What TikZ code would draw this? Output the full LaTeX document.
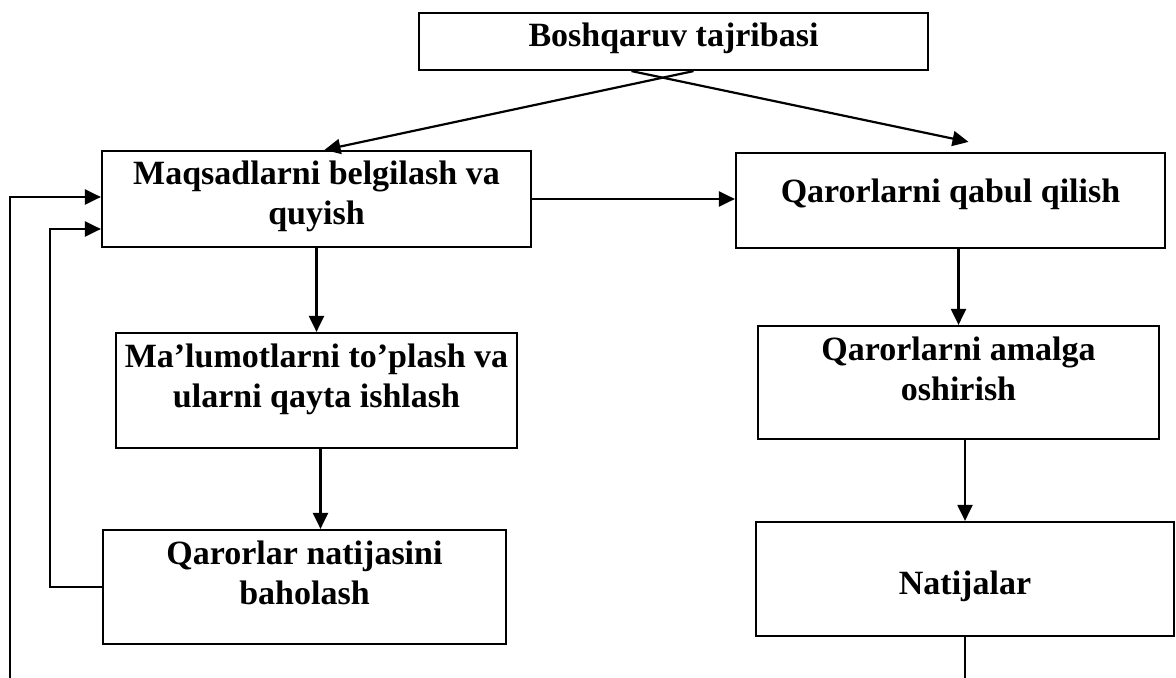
\documentclass[tikz,border=0pt]{standalone}
\usepackage{fontspec}
\setmainfont{Liberation Serif}
\usetikzlibrary{arrows.meta}

\begin{document}
\begin{tikzpicture}[x=0.5pt, y=-0.5pt, >={Triangle[length=8pt,width=7.5pt]},
    block/.style ={rectangle, draw, line width=1.1pt, inner sep=0pt},
    title/.style ={anchor=north, align=center, inner sep=0pt,
      font=\fontsize{17}{20}\selectfont\bfseries}]
   \useasboundingbox (0,0) rectangle (1176,678);
   \node[block, minimum width=254.5pt, minimum height=28.5pt] (tajriba)
      [label={[title, yshift=-5.5pt]north:Boshqaruv tajribasi}] at (673.5,41.5) {};
   \node[block, minimum width=214.5pt, minimum height=48pt] (maqsad)
      [label={[title, yshift=-5.5pt]north:Maqsadlarni belgilash va\\quyish}] at (316.5,199) {};
   \node[block, minimum width=214.5pt, minimum height=47.5pt] (qabul)
      [label={[title, yshift=-13.5pt]north:Qarorlarni qabul qilish}] at (950.5,200.5) {};
   \node[block, minimum width=200.5pt, minimum height=57.5pt] (malumot)
      [label={[title, yshift=-6pt]north:Ma’lumotlarni to’plash va\\ularni qayta ishlash}] at (316.5,390.5) {};
   \node[block, minimum width=201.5pt, minimum height=57pt] (baholash)
      [label={[title, yshift=-6pt]north:Qarorlar natijasini\\baholash}] at (304.5,587) {};
   \node[block, minimum width=200.5pt, minimum height=56.5pt] (amalga)
      [label={[title, yshift=-6pt]north:Qarorlarni amalga\\oshirish}] at (958.5,382.5) {};
   \node[block, minimum width=209pt, minimum height=57pt] (natija)
      [label={[title, yshift=-25pt]north:Natijalar}] at (965,579) {};
   \coordinate (loop) at (10,678);
   \draw[line width=1.1pt, ->] ([xshift=10pt]tajriba.south) to ([xshift=4pt]maqsad.north);
   \draw[line width=1.1pt, ->] ([xshift=-21pt]tajriba.south) to ([xshift=9pt, yshift=5pt]qabul.north);
   \draw[line width=1.1pt, ->] (maqsad.east) to (maqsad.east -| qabul.west);
   \draw[line width=1.1pt, ->] (maqsad) to (malumot);
   \draw[line width=1.1pt, ->] ([xshift=2pt]malumot.south) to ([xshift=2pt]malumot.south |- baholash.north);
   \draw[line width=1.1pt, ->] (qabul.south -| amalga) to (amalga.north);
   \draw[line width=1.1pt, ->] (amalga.south -| natija) to (natija.north);
   \draw[line width=1.1pt] (natija.south) to (natija.south |- loop);
   \draw[line width=1.1pt, ->] (baholash.west) -- ++(-26pt,0) |- ([yshift=-15pt]maqsad.west);
   \draw[line width=1.1pt, ->] (loop) |- ([yshift=1pt]maqsad.west);
\end{tikzpicture}
\end{document}
